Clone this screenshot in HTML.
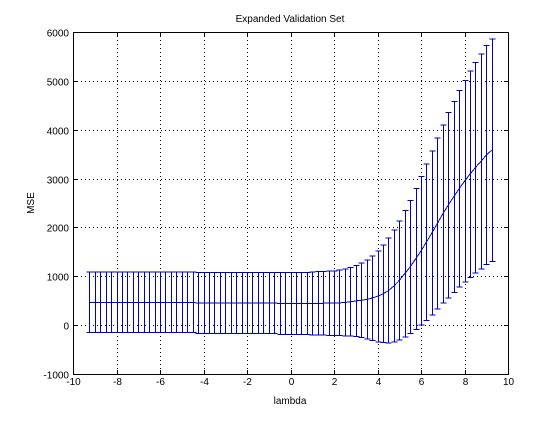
<!DOCTYPE html>
<html><head><meta charset="utf-8"><style>
html,body{margin:0;padding:0;background:#fff;}
svg text{font-family:"Liberation Sans",sans-serif;font-size:10px;fill:#000;}
</style></head><body>
<svg id="chart" width="560" height="420" xmlns="http://www.w3.org/2000/svg">
<rect x="0" y="0" width="560" height="420" fill="#fff"/>
<rect x="73" y="32" width="435" height="342" fill="#fff"/>
<g id="grid" shape-rendering="crispEdges"></g><g id="series" shape-rendering="crispEdges"></g><g id="axes" shape-rendering="crispEdges"></g>
<text x="290" y="22" text-anchor="middle">Expanded Validation Set</text>
<text x="290" y="404" text-anchor="middle">lambda</text>
<text x="34" y="203" text-anchor="middle" transform="rotate(-90 34 203)">MSE</text>
</svg>
<script>
const lambdaVals = [-9.25,-9,-8.75,-8.5,-8.25,-8,-7.75,-7.5,-7.25,-7,-6.75,-6.5,-6.25,-6,-5.75,-5.5,-5.25,-5,-4.75,-4.5,
-4.25,-4,-3.75,-3.5,-3.25,-3,-2.75,-2.5,-2.25,-2,-1.75,-1.5,-1.25,-1,-0.75,
-0.5,-0.25,0,0.25,0.5,0.75,
1,1.25,1.5,1.75,2,2.25,2.5,2.75,3,3.25,3.5,3.75,4,4.25,4.5,4.75,5,5.25,5.5,5.75,6,6.25,6.5,6.75,7,7.25,7.5,7.75,8,8.25,8.5,8.75,9,9.25];
const meanVals = [465,465,465,465,465,465,465,465,465,465,465,465,465,465,465,465,465,465,465,465,
452,452,452,452,452,452,452,452,452,452,452,452,452,452,452,
445,445,445,445,445,445,
445,448,448,449,450,455,465,478,495,510,525,555,590,640,705,800,915,1055,1190,1355,1520,1700,1885,2080,2275,2455,2625,2790,2945,3090,3225,3350,3480,3580];
const errVals = [620,620,620,620,620,620,620,620,620,620,620,620,620,620,620,620,620,620,620,620,
625,625,625,625,625,625,625,625,625,625,625,625,625,625,625,
635,635,635,635,635,635,
645,648,653,656,660,670,685,703,725,760,805,865,930,1000,1075,1150,1215,1295,1360,1445,1520,1600,1675,1750,1825,1895,1955,2010,2065,2110,2155,2200,2240,2280];
const xTicks = [-10,-8,-6,-4,-2,0,2,4,6,8,10];
const yTicks = [-1000,0,1000,2000,3000,4000,5000,6000];

const L=73,R=508,T=32,B=374;
const sx = v => L + (v + 10) / 20 * (R - L);
const sy = v => B - (v + 1000) / 7000 * (B - T);
const NS="http://www.w3.org/2000/svg";
function mk(tag, attrs, parent){const e=document.createElementNS(NS,tag);for(const k in attrs)e.setAttribute(k,attrs[k]);parent.appendChild(e);return e;}
const grid=document.getElementById('grid'), series=document.getElementById('series'), axes=document.getElementById('axes');

xTicks.forEach(t=>{
  const x=Math.round(sx(t))+0.5;
  if(t>-10&&t<10){const g=mk('line',{x1:x,x2:x,y1:T,y2:B,stroke:'#000','stroke-width':1,'stroke-dasharray':'1,3'},grid);
  
  }
  const a=mk('line',{x1:x,x2:x,y1:B,y2:B-4,stroke:'#000'},axes);
  
  
  const b=mk('line',{x1:x,x2:x,y1:T,y2:T+4,stroke:'#000'},axes);
  
  
  const tx=mk('text',{x:x,y:B+11,'text-anchor':'middle'},axes);tx.textContent=t;
  
  
});
yTicks.forEach(t=>{
  const y=Math.round(sy(t))+0.5;
  if(t>-1000&&t<6000){const g=mk('line',{x1:L,x2:R,y1:y,y2:y,stroke:'#000','stroke-width':1,'stroke-dasharray':'1,3'},grid);
  
  }
  const a=mk('line',{x1:L,x2:L+4,y1:y,y2:y,stroke:'#000'},axes);
  
  
  const b=mk('line',{x1:R,x2:R-4,y1:y,y2:y,stroke:'#000'},axes);
  
  
  const tx=mk('text',{x:L-4,y:y+4,'text-anchor':'end'},axes);tx.textContent=t;
  
  
});
const box=mk('rect',{x:L+0.5,y:T+0.5,width:R-L,height:B-T,fill:'none',stroke:'#000','stroke-width':1},axes);



const col='#0000c8';
lambdaVals.forEach((lv,i)=>{
  const x=Math.round(sx(lv))+0.5, y1=sy(meanVals[i]-errVals[i]), y2=sy(meanVals[i]+errVals[i]);
  const g=mk('g',{},series);
  
  
  mk('line',{x1:x,x2:x,y1:y1,y2:y2,stroke:col,'stroke-width':1},g);
  mk('line',{x1:x-3,x2:x+3,y1:y1,y2:y1,stroke:col,'stroke-width':1},g);
  mk('line',{x1:x-3,x2:x+3,y1:y2,y2:y2,stroke:col,'stroke-width':1},g);
});
const pts=lambdaVals.map((lv,i)=>sx(lv)+','+sy(meanVals[i])).join(' ');
const pl=mk('polyline',{points:pts,fill:'none',stroke:col,'stroke-width':1},series);


</script>
</body></html>
